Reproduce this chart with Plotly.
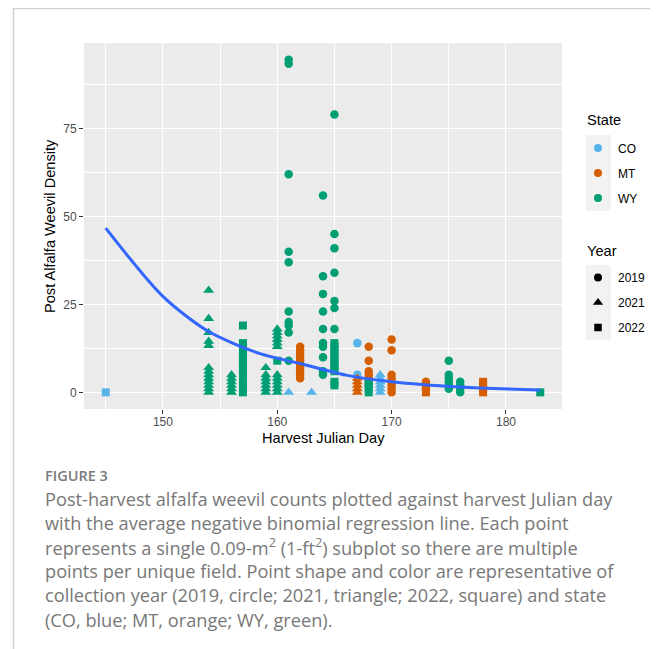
import plotly.graph_objects as go

# ---------------- data ----------------
CO_2019_day = [167, 167]
CO_2019_val = [14, 5]
CO_2021_day = [161, 163, 169, 169, 169, 169, 169, 169]
CO_2021_val = [0, 0, 5, 4, 3, 2, 1, 0]
CO_2022_day = [145]
CO_2022_val = [0]

MT_2019_day = [162] * 10 + [168] * 7 + [170] * 8 + [173] * 3
MT_2019_val = [13, 12, 11, 10, 9, 8, 7, 6, 5, 4,
               13, 9, 6, 5, 4, 3, 2,
               15, 12, 5, 4, 3, 2, 1, 0,
               3, 2, 1]
MT_2021_day = [167] * 5
MT_2021_val = [4, 3, 2, 1, 0]
MT_2022_day = [173, 178, 178, 178, 178]
MT_2022_val = [0, 3, 2, 1, 0]

WY_2019_day = [161] * 10 + [164] * 10 + [165] * 8 + [175] * 6 + [176] * 4
WY_2019_val = [94.6, 93.4, 62, 40, 37, 23, 20, 19, 17, 9,
               56, 33, 28, 23, 18, 14, 13, 10, 6, 5,
               79, 45, 41, 34, 26, 24, 18, 7,
               9, 5, 4, 3, 2, 1,
               3, 2, 1, 0]
WY_2021_day = [154] * 13 + [156] * 6 + [159] * 7 + [160] * 12
WY_2021_val = [29, 21, 17, 14.5, 13.3, 7, 6, 5, 4, 3, 2, 1, 0,
               5, 4, 3, 2, 1, 0,
               7, 5, 4, 3, 2, 1, 0,
               18, 17, 16, 15, 14, 13, 5, 4, 3, 2, 1, 0]
WY_2022_day = [157] * 14 + [160] + [165] * 11 + [168] * 4 + [183]
WY_2022_val = [19, 14, 13, 11, 10, 9, 8, 7, 6, 5, 3, 2, 1, 0,
               9,
               14, 13, 12, 11, 10, 9, 8, 7, 6, 3, 2,
               3, 2, 1, 0,
               0]

# regression line
fit_day = [145, 150, 154, 158.5, 162, 166, 170, 176, 183]
fit_val = [46.7, 27.3, 17.3, 11.0, 8.2, 4.9, 3.0, 1.5, 0.7]

states = ["CO", "MT", "WY"]
years = ["2019", "2021", "2022"]
state_colors = {"CO": "#56B4E9", "MT": "#D55E00", "WY": "#009E73"}
year_symbols = {"2019": "circle", "2021": "triangle-up", "2022": "square"}
year_sizes = {"2019": 8.5, "2021": 9.5, "2022": 8}

groups = {
    ("CO", "2019"): (CO_2019_day, CO_2019_val),
    ("CO", "2021"): (CO_2021_day, CO_2021_val),
    ("CO", "2022"): (CO_2022_day, CO_2022_val),
    ("MT", "2019"): (MT_2019_day, MT_2019_val),
    ("MT", "2021"): (MT_2021_day, MT_2021_val),
    ("MT", "2022"): (MT_2022_day, MT_2022_val),
    ("WY", "2019"): (WY_2019_day, WY_2019_val),
    ("WY", "2021"): (WY_2021_day, WY_2021_val),
    ("WY", "2022"): (WY_2022_day, WY_2022_val),
}

x_ticks = [150, 160, 170, 180]
y_ticks = [0, 25, 50, 75]

caption_title = "FIGURE 3"
caption_lines = [
    "Post-harvest alfalfa weevil counts plotted against harvest Julian day",
    "with the average negative binomial regression line. Each point",
    "represents a single 0.09-m<sup>2</sup> (1-ft<sup>2</sup>) subplot so there are multiple",
    "points per unique field. Point shape and color are representative of",
    "collection year (2019, circle; 2021, triangle; 2022, square) and state",
    "(CO, blue; MT, orange; WY, green).",
]

# ---------------- layout geometry ----------------
# the page body has an 8px margin, so the figure is drawn 8px in and down
OFF = 8
FW, FH = 650, 641
L, T = 84 - OFF, 43 - OFF
PW, PH = 478, 366
R, B = FW - L - PW, FH - T - PH


def px_x(px):
    """reference-screen pixel x -> paper x"""
    return (px - OFF - L) / PW


def px_y(py):
    """reference-screen pixel y -> paper y"""
    return (T + PH - (py - OFF)) / PH


FONT = "Liberation Sans, Arial, sans-serif"
CAP_FONT = "Open Sans, Lato, sans-serif"

fig = go.Figure()

for (st, yr), (d, v) in groups.items():
    fig.add_trace(go.Scatter(
        x=d, y=v, mode="markers", showlegend=False,
        marker=dict(symbol=year_symbols[yr], size=year_sizes[yr],
                    color=state_colors[st], line=dict(width=0)),
        hoverinfo="x+y",
    ))

fig.add_trace(go.Scatter(
    x=fit_day, y=fit_val, mode="lines", showlegend=False,
    line=dict(color="#3366FF", width=3, shape="spline", smoothing=0.8),
))

# legend entries
for st in states:
    fig.add_trace(go.Scatter(
        x=[None], y=[None], mode="markers", name=st, legend="legend",
        legendgroup="s" + st,
        marker=dict(symbol="circle", size=8, color=state_colors[st]),
    ))
for yr in years:
    fig.add_trace(go.Scatter(
        x=[None], y=[None], mode="markers", name=yr, legend="legend2",
        legendgroup="y" + yr,
        marker=dict(symbol=year_symbols[yr], size=year_sizes[yr] - 0.5, color="black"),
    ))

shapes = [
    # outer frame of the figure panel
    dict(type="rect", xref="paper", yref="paper",
         x0=px_x(13.5), x1=px_x(654), y0=px_y(700), y1=px_y(8.5),
         line=dict(color="#CFCFCF", width=1.5), fillcolor="rgba(0,0,0,0)",
         layer="below"),
    # legend key backgrounds
    dict(type="rect", xref="paper", yref="paper",
         x0=px_x(586), x1=px_x(611), y0=px_y(211), y1=px_y(135),
         line=dict(width=0), fillcolor="#F2F2F2", layer="below"),
    dict(type="rect", xref="paper", yref="paper",
         x0=px_x(586), x1=px_x(611), y0=px_y(340), y1=px_y(265),
         line=dict(width=0), fillcolor="#F2F2F2", layer="below"),
]

annotations = [
    dict(text="Harvest Julian Day", xref="paper", yref="paper",
         x=px_x(323), y=px_y(438), xanchor="center", yanchor="middle",
         showarrow=False, font=dict(family=FONT, size=14.6, color="black")),
    dict(text="Post Alfalfa Weevil Density", xref="paper", yref="paper",
         x=px_x(50), y=px_y(226), xanchor="center", yanchor="middle",
         textangle=-90, showarrow=False,
         font=dict(family=FONT, size=14.6, color="black")),
    dict(text="State", xref="paper", yref="paper",
         x=px_x(585), y=px_y(120.5), xanchor="left", yanchor="middle",
         showarrow=False, font=dict(family=FONT, size=14.6, color="black")),
    dict(text="Year", xref="paper", yref="paper",
         x=px_x(585), y=px_y(250.5), xanchor="left", yanchor="middle",
         showarrow=False, font=dict(family=FONT, size=14.6, color="black")),
    dict(text=caption_title, xref="paper", yref="paper",
         x=px_x(43), y=px_y(475), xanchor="left", yanchor="middle",
         showarrow=False,
         font=dict(family=CAP_FONT, size=14.5, color="#7A7A7A", weight=600)),
]
cap_y = [498.5, 522.7, 546.8, 571, 595.2, 619.5]
for txt, yy in zip(caption_lines, cap_y):
    annotations.append(dict(
        text=txt, xref="paper", yref="paper", x=px_x(43), y=px_y(yy),
        xanchor="left", yanchor="middle", showarrow=False,
        font=dict(family=CAP_FONT, size=18.2, color="#787878")))

axis_common = dict(
    showline=False, zeroline=False, ticks="outside", ticklen=4,
    tickwidth=1.1, tickcolor="#333333", gridcolor="white", gridwidth=1.4,
    tickfont=dict(family=FONT, size=12, color="#4D4D4D"),
)

legend_common = dict(
    xanchor="left", yanchor="top", bgcolor="rgba(0,0,0,0)",
    tracegroupgap=6, traceorder="grouped",
    font=dict(family=FONT, size=12, color="black"),
    itemclick=False, itemdoubleclick=False,
)

fig.update_layout(
    width=FW, height=FH,
    margin=dict(l=L, r=R, t=T, b=B, autoexpand=False),
    paper_bgcolor="white", plot_bgcolor="#EBEBEB",
    xaxis=dict(range=[143.1, 184.9], tickvals=x_ticks,
               ticktext=[str(t) for t in x_ticks], ticklabelstandoff=-2,
               minor=dict(dtick=5, tick0=145, showgrid=True, gridcolor="white",
                          gridwidth=0.7, ticks=""),
               **axis_common),
    yaxis=dict(range=[-4.73, 99.33], tickvals=y_ticks,
               ticktext=[str(t) for t in y_ticks], ticklabelstandoff=0,
               minor=dict(dtick=12.5, tick0=0, showgrid=True, gridcolor="white",
                          gridwidth=0.7, ticks=""),
               **axis_common),
    legend=dict(x=px_x(578), y=px_y(133.5), **legend_common),
    legend2=dict(x=px_x(578), y=px_y(263), **legend_common),
    shapes=shapes, annotations=annotations,
)

fig.write_html("out.html")
